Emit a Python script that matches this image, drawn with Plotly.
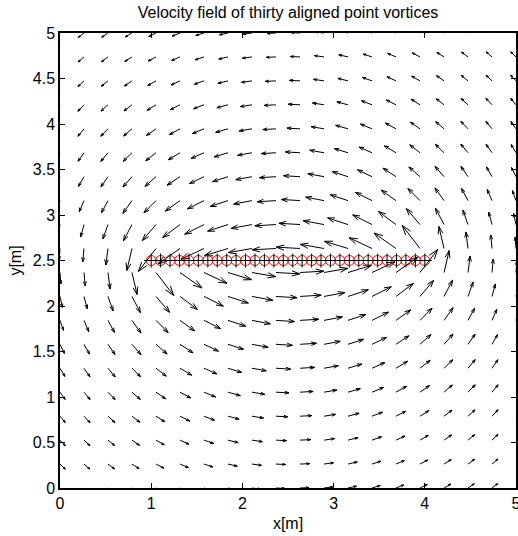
import numpy as np
import plotly.graph_objects as go

# ---- data ----
# grid on which the velocity field is sampled (20 x 20)
grid_x = [0.0, 0.263, 0.526, 0.789, 1.053, 1.316, 1.579, 1.842, 2.105, 2.368,
          2.632, 2.895, 3.158, 3.421, 3.684, 3.947, 4.211, 4.474, 4.737, 5.0]
grid_y = [0.0, 0.263, 0.526, 0.789, 1.053, 1.316, 1.579, 1.842, 2.105, 2.368,
          2.632, 2.895, 3.158, 3.421, 3.684, 3.947, 4.211, 4.474, 4.737, 5.0]

# thirty aligned point vortices
vortex_x = [1.000, 1.103, 1.207, 1.310, 1.414, 1.517, 1.621, 1.724, 1.828, 1.931,
            2.034, 2.138, 2.241, 2.345, 2.448, 2.552, 2.655, 2.759, 2.862, 2.966,
            3.069, 3.172, 3.276, 3.379, 3.483, 3.586, 3.690, 3.793, 3.897, 4.000]
vortex_y = [2.5] * 30
vortex_gamma = [1.0] * 30

x_ticks = [0, 1, 2, 3, 4, 5]
y_ticks = [0, 0.5, 1, 1.5, 2, 2.5, 3, 3.5, 4, 4.5, 5]

# ---- velocity induced by the point vortices (Biot-Savart) ----
X, Y = np.meshgrid(np.array(grid_x), np.array(grid_y))
U = np.zeros_like(X)
V = np.zeros_like(X)
for xv, yv, g in zip(vortex_x, vortex_y, vortex_gamma):
    dx = X - xv
    dy = Y - yv
    r2 = dx**2 + dy**2
    U += -g * dy / (2 * np.pi * r2)
    V += g * dx / (2 * np.pi * r2)

# quiver-style autoscale
n = len(grid_x)
delx = (max(grid_x) - min(grid_x)) / n
dely = (max(grid_y) - min(grid_y)) / n
dl = delx**2 + dely**2
lens = np.sqrt((U**2 + V**2) / dl)
scale = 0.9 / lens.max()
U *= scale
V *= scale

alpha, beta = 0.33, 0.33
xs, ys = [], []
for x0, y0, u, v in zip(X.ravel(), Y.ravel(), U.ravel(), V.ravel()):
    # shaft
    xs += [x0, x0 + u, None]
    ys += [y0, y0 + v, None]
    # head
    xs += [x0 + u - alpha * (u + beta * v), x0 + u, x0 + u - alpha * (u - beta * v), None]
    ys += [y0 + v - alpha * (v - beta * u), y0 + v, y0 + v - alpha * (v + beta * u), None]

fig = go.Figure()
fig.add_trace(go.Scatter(x=xs, y=ys, mode="lines",
                         line=dict(color="black", width=1), hoverinfo="skip",
                         showlegend=False))
fig.add_trace(go.Scatter(x=vortex_x, y=vortex_y, mode="markers",
                         marker=dict(symbol="circle-open", size=10, color="red",
                                     line=dict(width=1, color="red")),
                         showlegend=False))
fig.add_trace(go.Scatter(x=vortex_x, y=vortex_y, mode="markers",
                         marker=dict(symbol="cross-thin-open", size=10, color="black",
                                     line=dict(width=1, color="black")),
                         showlegend=False))

font = "Liberation Sans, Arial, sans-serif"
axis_common = dict(showgrid=False, zeroline=False, showline=True, linecolor="black",
                   linewidth=1.5, mirror="ticks", ticks="inside", ticklen=5,
                   tickcolor="black", ticklabeloverflow="allow", automargin=False,
                   tickfont=dict(family=font, size=16, color="black"))
fig.update_layout(
    width=518, height=536,
    margin=dict(l=60, r=2, t=33, b=48),
    paper_bgcolor="white", plot_bgcolor="white",
    title=dict(text="Velocity field of thirty aligned point vortices",
               x=0.556, xanchor="center", y=0.976, yanchor="middle",
               font=dict(family=font, size=16, color="black")),
    xaxis=dict(range=[0, 5], tickvals=x_ticks, ticktext=[str(t) for t in x_ticks],
               title=dict(text="x[m]", font=dict(family=font, size=16, color="black"),
                          standoff=7),
               **axis_common),
    yaxis=dict(range=[0, 5], tickvals=y_ticks, ticktext=[("%g" % t) for t in y_ticks],
               title=dict(text="y[m]", font=dict(family=font, size=16, color="black"),
                          standoff=7),
               **axis_common),
)
fig.write_html("out.html")
